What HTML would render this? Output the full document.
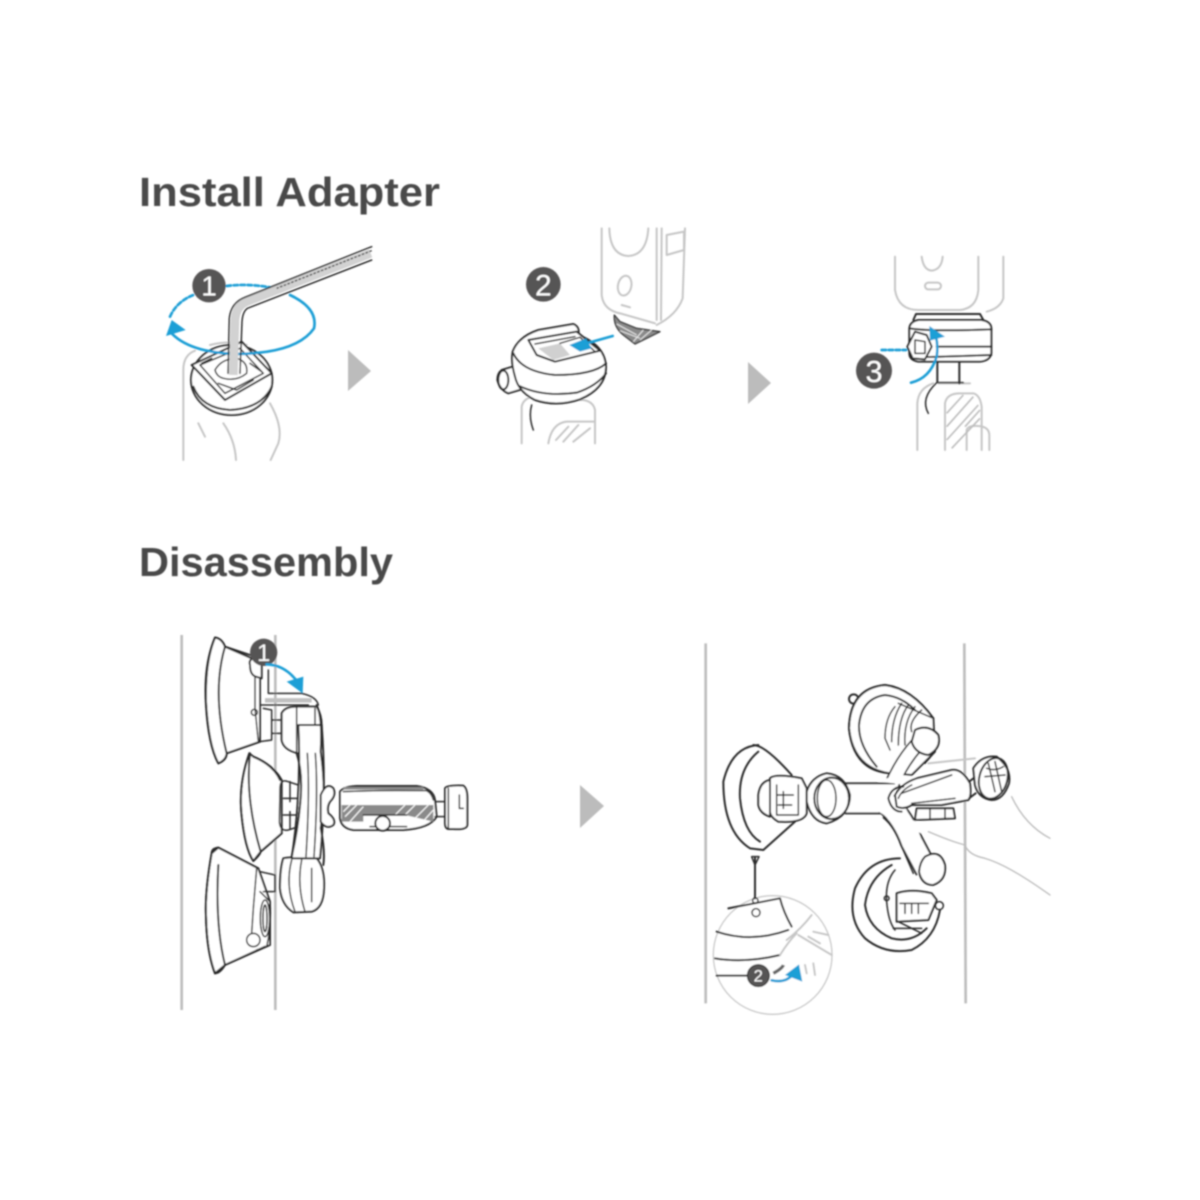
<!DOCTYPE html>
<html><head><meta charset="utf-8"><style>
html,body{margin:0;padding:0;background:#fff}
svg{display:block}
text{font-family:"Liberation Sans",sans-serif}
.k{fill:none;stroke:#2a2a2a;stroke-width:6;stroke-linecap:round;stroke-linejoin:round}
.t{fill:none;stroke:#2a2a2a;stroke-width:4.5;stroke-linecap:round;stroke-linejoin:round}
.w{fill:#fff;stroke:#2a2a2a;stroke-width:6;stroke-linejoin:round}
.g{fill:none;stroke:#c6c6c6;stroke-width:6;stroke-linecap:round;stroke-linejoin:round}
.h{fill:none;stroke:#bcbcbc;stroke-width:4;stroke-linecap:round;stroke-linejoin:round}
.b{fill:none;stroke:#1f9fd6;stroke-width:8;stroke-linecap:round}
.bf{fill:#1f9fd6}
.n{fill:#565454}
.nt{fill:#fff;font-weight:400;text-anchor:middle}
</style></head><body>
<svg width="1200" height="1200" viewBox="0 0 1200 1200" xmlns="http://www.w3.org/2000/svg">
<rect width="1200" height="1200" fill="#fff"/>
<defs><filter id="s" x="-5%" y="-5%" width="110%" height="110%"><feGaussianBlur stdDeviation="0.7"/></filter></defs>
<g filter="url(#s)">
<text x="139" y="206" font-size="41" font-weight="700" fill="#4a4a4a" textLength="301" lengthAdjust="spacingAndGlyphs">Install Adapter</text>
<text x="139" y="576" font-size="41" font-weight="700" fill="#4a4a4a" textLength="254" lengthAdjust="spacingAndGlyphs">Disassembly</text>

<!-- flow arrows -->
<path d="M348 350 L371 371 L348 391Z" fill="#bcbcbc"/>
<path d="M748 362 L771 383 L748 404Z" fill="#bcbcbc"/>
<path d="M580 785 L604 806 L580 828Z" fill="#bcbcbc"/>

<!-- Panel 1 -->
<g transform="translate(130,230) scale(.33333)">
<path class="g" d="M160 690V420Q160 375 195 362 M240 345Q300 330 350 345"/>
<path class="g" d="M205 580L225 620 M280 580Q315 630 318 690 M420 520Q460 590 445 640L422 690"/>
<ellipse class="w" cx="305" cy="450" rx="122" ry="105"/>
<path class="k" d="M190 470Q215 535 300 540Q395 535 425 470"/>
<path class="w" d="M185 405L335 335L425 430L285 510Z"/>
<path class="t" d="M210 405L330 355L400 430L285 490Z"/>
<path class="t" d="M255 420Q275 385 320 385Q355 395 350 430Q320 455 280 445Q260 440 255 420Z"/>
<path class="t" d="M265 460L320 480L370 450 M245 385L215 400 M360 400L395 425"/>
<path d="M120 305Q175 368 320 372Q500 370 552 295Q565 235 480 195" class="b"/>
<path d="M120 260Q140 215 190 195 M290 168Q350 160 420 172" class="b" stroke-dasharray="13 8"/>
<path class="bf" d="M108 318L125 270L167 300Z"/>
<path d="M722 70L350 215Q318 228 315 270L310 435" fill="none" stroke="#d2d2d2" stroke-width="26"/>
<path class="t" stroke-width="5" d="M725 50L345 202Q303 218 298 265L294 430"/>
<path class="t" d="M725 90L352 235Q338 245 336 275L330 430"/>
<path d="M725 62L440 175" fill="none" stroke="#333" stroke-width="4" stroke-dasharray="8 4"/>
<circle class="n" cx="237" cy="167" r="50"/>
<text class="nt" x="237" y="197" font-size="84">1</text>
</g>

<!-- Panel 2 -->
<g transform="translate(480,220) scale(.33333)">
<path class="g" d="M365 25V225Q370 270 420 280L525 310 M530 25V300 M545 25L543 300 M615 25L608 235Q590 285 530 315"/>
<path class="g" d="M388 25Q390 105 445 108Q500 105 505 25 M560 45L612 35V90L560 105Z"/>
<ellipse class="g" cx="434" cy="197" rx="20" ry="30" transform="rotate(12 434 197)"/>
<path class="g" d="M425 255L450 262"/>
<path class="g" d="M125 670V560Q130 535 160 530 M345 670V570Q340 545 310 540H160 M205 670Q215 610 260 605H345 M228 660L265 620 M250 665L295 615 M280 665L330 625"/>
<path class="t" d="M155 555Q145 590 160 630"/>
<path d="M403 285Q400 320 430 345L465 372L540 335L470 325L420 305Z" fill="#8a8a8a" stroke="#333" stroke-width="4" stroke-linejoin="round"/>
<path d="M410 312L470 345M420 332L480 355M490 330L460 365M515 330L480 360" stroke="#eee" stroke-width="3" fill="none"/>
<path class="w" d="M65 450L115 435L135 505L85 520Q60 510 52 480Q52 460 65 450Z"/>
<ellipse class="k" cx="70" cy="480" rx="15" ry="28" fill="#fff"/>
<path class="w" d="M98 395Q115 350 175 330L280 312Q300 320 295 345Q375 375 378 440Q378 505 300 538Q230 562 165 540Q115 515 105 470Q92 425 98 395Z"/>
<path class="k" d="M100 400Q125 455 225 465Q340 465 378 430"/>
<path class="k" d="M118 498Q190 532 290 518Q350 498 378 460"/>
<path class="w" stroke-width="4" d="M145 360L290 335L360 392L225 425L170 405Z"/>
<path fill="#d0d0d0" d="M175 385L240 370L270 405L220 420Z"/>
<path class="t" d="M165 372L285 350M240 370L300 352L345 395"/>
<path class="b" stroke-width="10" d="M398 348L320 370"/>
<path class="bf" d="M268 375L318 355L335 385L300 395Z"/>
<circle class="n" cx="190" cy="193" r="52"/>
<text class="nt" x="190" y="226" font-size="90">2</text>
</g>

<!-- Panel 3 -->
<g transform="translate(830,240) scale(.33333)">
<path class="g" d="M195 50V150Q205 210 265 210H390Q440 205 445 150V50 M520 50V175Q510 205 470 215"/>
<path class="g" d="M275 50Q280 90 305 92Q335 88 338 50"/>
<rect class="g" x="285" y="128" width="48" height="20" rx="10"/>
<path class="g" d="M262 630V490Q265 445 310 430 M325 430H420 M345 630V490Q350 460 390 460H430Q450 465 455 500V630 M410 630V570Q415 555 445 558Q480 560 478 590V630"/>
<g stroke="#bdbdbd" stroke-width="5"><path d="M350 520L400 465M350 560L430 470M350 600L445 495M365 625L450 535M405 560L450 510"/></g>
<path class="t" d="M295 520Q270 475 320 428H400"/>
<path class="k" d="M322 365V425M388 365V430"/>
<path class="k" d="M250 240L258 222H450L460 240"/>
<path class="w" d="M238 265Q240 245 265 240H455Q483 245 484 265V340Q480 362 450 365H265Q238 360 238 340Z"/>
<path class="k" d="M240 265Q300 275 484 268 M320 320H484 M245 352Q350 350 484 345"/>
<path class="w" stroke-width="4.5" d="M232 320L255 275L290 285L305 320L285 358L248 355Z" fill="#e4e4e4"/>
<path class="t" d="M255 300L285 305L285 340L255 340Z"/>
<path class="b" d="M155 330H228" stroke-dasharray="13 8" stroke="#4d9dbb"/>
<path class="b" stroke-width="10" d="M243 428Q300 415 320 350Q325 320 318 290"/>
<path class="bf" d="M298 258L345 290L300 302Z"/>
<circle class="n" cx="132" cy="392" r="54"/>
<text class="nt" x="132" y="426" font-size="92">3</text>
</g>

<!-- Panel 4 -->
<g transform="translate(170,625) scale(.33333)">
<path d="M35 30V1155 M316 30V1155" fill="none" stroke="#bdbdbd" stroke-width="8"/>
<path class="w" stroke="none" d="M135 38Q105 110 108 230Q115 360 145 415Q170 405 170 385L270 350V100L165 65Q155 40 135 38Z"/>
<path class="k" d="M165 65L245 100 M135 38Q155 40 165 65 M135 38Q100 120 108 240Q115 360 145 415Q168 405 170 385 M170 385L270 350 M165 65Q125 200 170 385"/>
<path class="w" stroke="#555" d="M240 120Q235 105 250 100L275 115V160L258 155Q240 150 240 120Z"/>
<path class="t" d="M255 155V250L265 350 M295 135V205H395Q440 215 445 240"/>
<path d="M285 226H425" stroke="#c0c0c0" stroke-width="13" fill="none"/>
<path class="t" d="M270 240H415"/>
<circle class="t" cx="253" cy="262" r="9"/>
<path class="t" d="M280 250L305 255V345L270 350 M305 285H335V325H305"/>
<path class="w" stroke="none" d="M238 385Q205 480 215 570Q225 670 250 708L272 680L335 625V465Q310 420 250 395Z"/>
<path class="k" d="M238 385Q205 480 215 570Q225 670 250 708Q270 690 272 680 M240 385Q225 520 272 680 M250 395Q310 420 330 465 M272 680L335 625"/>
<path class="t" d="M330 490Q330 460 355 470L385 480V605L355 615Q330 620 328 590Z M340 520H385M340 570H385M360 470V530M360 560V610"/>
<path class="w" stroke="none" d="M145 668L265 730L300 830V960L165 1020L135 1045Q110 980 108 870Q105 800 125 685Z"/>
<path class="k" d="M145 668L265 730 M125 685Q105 800 108 870Q110 980 135 1045Q150 1045 165 1020 M145 668Q125 670 125 685 M145 720Q135 900 165 1020 M165 1020L285 965"/>
<path class="t" d="M260 730L250 850L245 925 M270 740L315 750V800L280 800 M270 800L300 830Q305 900 290 965L260 975"/>
<ellipse class="t" cx="285" cy="880" rx="14" ry="55"/>
<ellipse class="t" cx="285" cy="880" rx="6" ry="40"/>
<circle class="t" cx="250" cy="945" r="20" fill="#fff"/>
<path class="w" d="M335 265Q345 245 380 245H440Q455 270 455 300V380L385 385Q340 375 335 345Z"/>
<path class="t" d="M380 245V385M435 250V375"/>
<path class="w" d="M340 700Q360 695 385 700H440Q465 730 462 790Q460 850 425 860L370 862Q335 840 330 790Q330 730 340 700Z"/>
<path class="t" d="M365 705Q345 780 375 860M395 705Q380 780 405 860M425 730V830"/>
<path class="w" stroke="none" d="M385 300H455Q470 500 450 700H365Q395 500 385 300Z"/>
<path class="k" d="M380 385Q398 440 392 520Q385 610 365 695"/>
<path class="k" d="M440 240Q458 280 452 380Q470 500 452 610Q466 680 460 720"/>
<path class="t" d="M412 385Q420 500 408 695M436 385Q445 500 432 695"/>
<path class="w" stroke-width="4.5" d="M452 510Q470 470 490 490Q500 510 480 530Q470 545 475 565Q500 585 490 600Q470 615 452 590Z"/>
<path class="w" stroke-width="4.5" d="M510 500Q520 485 560 483H740Q790 490 795 525L800 575Q780 610 700 615H550Q515 610 510 580Z"/>
<path d="M520 490H760" stroke="#8a8a8a" stroke-width="8" fill="none"/>
<path class="t" d="M520 500Q620 495 770 497Q785 505 790 525"/>
<path d="M515 540H790V590L705 570H580V590H515Z" fill="#8a8a8a"/>
<g stroke="#fff" stroke-width="3.5"><path d="M520 560L540 540M525 575L560 540M540 590L580 545M675 570L705 540M700 575L735 540M725 590L775 540M750 600L790 555"/></g>
<path class="t" d="M580 570H710 M600 605H710"/>
<circle class="w" stroke-width="4.5" cx="638" cy="595" r="22"/>
<path class="t" d="M795 530H825V575H795"/>
<path class="w" d="M825 490Q830 480 880 482Q892 490 892 520V600Q890 615 850 612H835Q825 610 825 595Z"/>
<path class="t" d="M835 490V610M868 510V550H880"/>
<circle class="n" cx="281" cy="82" r="41"/>
<text class="nt" x="281" y="108" font-size="72">1</text>
<path class="b" stroke-width="9" d="M290 118Q345 120 382 170"/>
<path class="bf" d="M350 170L400 155L398 205Z"/>
</g>

<!-- Panel 5 -->
<g transform="translate(695,635) scale(.33333)">
<path d="M32 25V1105 M808 25L812 1105" fill="none" stroke="#bdbdbd" stroke-width="8"/>
<circle class="k" cx="476" cy="192" r="14" fill="#fff"/>
<path class="w" stroke="none" d="M590 415Q475 410 462 280Q465 160 570 150Q650 160 715 250L720 350L650 420Z"/>
<path class="k" d="M585 415Q475 400 462 280Q465 160 570 150Q650 160 715 250"/>
<path class="k" d="M545 395Q490 330 492 270Q500 190 570 180Q620 185 660 225"/>
<path class="t" d="M720 350L690 385"/>
<path class="t" d="M600 215Q570 250 570 310L585 345 M620 205Q590 250 590 320 M640 210Q610 250 610 330 M660 215Q625 260 630 330 M680 225Q640 260 650 290 M610 205L715 250"/>
<path d="M665 330Q620 380 590 450" fill="none" stroke="#2a2a2a" stroke-width="46"/>
<path d="M665 330Q620 380 590 450" fill="none" stroke="#fff" stroke-width="36"/>
<path class="w" stroke-width="4.5" d="M660 285Q700 265 730 300Q740 340 700 360Q660 355 650 320Z"/>
<path class="k" d="M190 330Q110 335 85 440Q85 590 165 640L205 645L300 560 M175 330Q210 330 290 420"/>
<path class="k" d="M190 350Q130 400 135 490Q145 590 195 620"/>
<path class="w" d="M190 480Q195 440 225 435V545Q195 535 190 510Z"/>
<path class="w" d="M225 430Q240 415 320 430L335 460V535Q325 565 250 560Q225 545 225 530Z"/>
<path class="t" d="M245 450V540H310V450M245 480H295M250 510H290M265 470V520"/>
<path class="k" d="M615 670Q520 670 480 760Q455 850 510 910Q570 960 650 945Q720 910 735 825"/>
<path class="k" d="M590 690Q520 730 510 810Q520 880 590 910Q650 925 695 880"/>
<path class="t" d="M600 705Q570 740 575 800Q580 860 600 885"/>
<circle class="t" cx="575" cy="790" r="7"/>
<path class="w" stroke-width="4.5" d="M605 775Q650 760 710 775L725 795L700 855L605 860Z"/>
<path class="t" d="M615 805H700 M630 805V835M650 805V835M670 805V835 M595 880H680M610 860L680 895"/>
<circle class="t" cx="733" cy="812" r="12"/>
<path d="M450 490H600" fill="none" stroke="#2a2a2a" stroke-width="96"/>
<path d="M450 490H600" fill="none" stroke="#fff" stroke-width="84"/>
<path d="M575 505Q625 550 650 620L695 705" fill="none" stroke="#2a2a2a" stroke-width="72"/>
<path d="M575 505Q625 550 650 620L695 705" fill="none" stroke="#fff" stroke-width="60"/>
<path class="t" d="M565 548Q598 575 618 630L655 715"/>
<path d="M560 500Q600 520 610 545" fill="none" stroke="#fff" stroke-width="62"/>
<path class="w" d="M335 470Q350 425 395 415Q450 420 465 480Q465 545 395 565Q350 560 335 500Z"/>
<ellipse class="k" cx="410" cy="490" rx="52" ry="62"/>
<ellipse class="t" cx="395" cy="490" rx="28" ry="55"/>
<path d="M548 440L610 418L700 432L640 450L550 440Z" fill="#fff"/>
<path d="M600 540L700 570L690 600L630 575Z" fill="#fff"/>
<path class="w" d="M690 665Q735 640 750 690Q755 735 715 750Q680 750 672 710Q675 680 690 665Z"/>
<path class="w" d="M600 480Q620 445 665 430L770 405Q800 400 825 445Q830 485 820 495L740 510H650Q625 525 605 515Z"/>
<path class="k" d="M580 490Q590 455 625 455M580 490Q590 530 620 530"/>
<path class="t" d="M610 490Q620 465 650 450M620 475L770 420M650 505L780 490"/>
<path class="k" d="M822 440L842 425M822 490L842 475"/>
<path class="g" d="M700 385L840 370"/>
<path class="w" stroke-width="4.5" d="M665 520H775L780 550L660 555Z"/>
<path class="t" d="M705 520V550M750 520V550"/>
<path class="w" d="M835 400Q860 360 905 365Q950 400 942 445Q925 495 890 495Q850 490 840 450Z"/>
<ellipse class="k" cx="895" cy="430" rx="42" ry="62" transform="rotate(15 895 430)"/>
<path class="t" d="M880 385L900 470M900 380L920 470M870 425L930 420M875 400Q900 410 925 395"/>
<path class="h" d="M950 485Q990 570 1065 610 M700 590Q770 620 810 630Q820 660 870 670Q940 690 1065 780"/>
<circle cx="233" cy="960" r="178" fill="#fff" stroke="#c8c8c8" stroke-width="4"/>
<path class="k" d="M180 668V790"/>
<path class="t" d="M170 665L180 690L192 665Z"/>
<circle class="t" cx="181" cy="797" r="8"/>
<path class="k" d="M100 820Q180 805 255 790Q265 830 290 875 M65 890Q170 925 280 885 M60 970Q150 985 255 960 M65 1022H165"/>
<circle class="t" cx="183" cy="833" r="12" fill="#fff"/>
<path class="g" stroke="#b9b9b9" d="M275 915Q320 880 350 840M310 900L410 960M340 905L375 925M355 890L400 900M255 960Q280 920 305 895 M330 990L335 1015M355 985L360 1020"/>
<path d="M235 1015Q262 1000 265 990" fill="none" stroke="#666" stroke-width="10"/>
<circle class="n" cx="190" cy="1022" r="33" stroke="#222" stroke-width="3"/>
<text class="nt" x="190" y="1040" font-size="50">2</text>
<path class="b" stroke-width="10" d="M230 1036Q270 1045 292 1020"/>
<path class="bf" d="M270 1020L312 988L322 1040Z"/>
</g>
</g>
</svg>
</body></html>
